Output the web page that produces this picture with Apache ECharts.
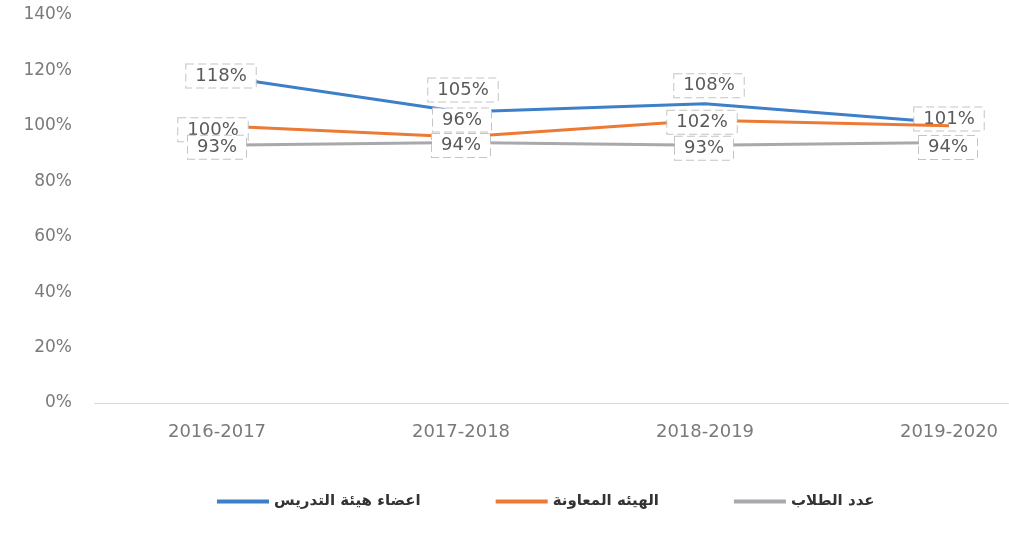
<!DOCTYPE html>
<html>
<head>
<meta charset="utf-8">
<script src="https://cdn.jsdelivr.net/npm/echarts@6/dist/echarts.min.js"></script>
<style>
html, body { margin: 0; padding: 0; background: #fff; }
#main { width: 1009px; height: 535px; }
</style>
</head>
<body>
<div id="main"></div>
<script>
var myChart = echarts.init(document.getElementById('main'));

// السنوات
var years = ['2016-2017', '2017-2018', '2018-2019', '2019-2020'];
// اعضاء هيئة التدريس
var staffData = [118, 105, 108, 101];
// الهيئه المعاونة
var assistData = [100, 96, 102, 100];
// عدد الطلاب
var studentData = [93, 94, 93, 94];

var seriesNames = ['اعضاء هيئة التدريس', 'الهيئه المعاونة', 'عدد الطلاب'];
var seriesColors = ['#3d7fc8', '#ec7a34', '#a9a9ad'];

// label offsets per point (style only)
var labelOffsets = [
	[[4, 0], [2, -22], [4, -18], [0, -4]],
	[[-4, 4], [1, -17], [-3, 2], null],
	[[0, 2], [0, 3], [-1, 3], [-1, 5]]
];

var buildData = function (values, s) {
	var out = [];
	for (var i = 0; i < values.length; i++) {
		var off = labelOffsets[s][i];
		out.push({
			value: values[i],
			label: off ? { show: true, offset: off } : { show: false }
		});
	}
	return out;
};

var labelStyle = {
	show: true,
	position: 'inside',
	formatter: '{c}%',
	fontFamily: 'DejaVu Sans',
	fontSize: 18,
	color: '#5a5a5a',
	backgroundColor: '#fff',
	borderColor: '#c4c4c4',
	borderWidth: 1,
	borderType: 'dashed',
	padding: [3, 9, 2, 9]
};

var allData = [staffData, assistData, studentData];
var series = [];
for (var s = 0; s < 3; s++) {
	series.push({
		name: seriesNames[s],
		type: 'line',
		data: buildData(allData[s], s),
		symbol: 'circle',
		symbolSize: 0.1,
		showSymbol: true,
		z: 2 + s,
		lineStyle: { width: 3, color: seriesColors[s] },
		itemStyle: { color: seriesColors[s] },
		label: labelStyle
	});
}

var option = {
	animation: false,
	grid: {
		left: 95,
		width: 976,
		top: 15,
		height: 388,
		containLabel: false,
		outerBoundsMode: 'none'
	},
	legend: {
		data: seriesNames,
		top: 489,
		left: 212,
		itemGap: 75,
		itemWidth: 52,
		itemHeight: 4,
		icon: 'rect',
		textStyle: {
			fontFamily: 'DejaVu Sans',
			fontSize: 15,
			fontWeight: 'bold',
			color: '#333'
		}
	},
	xAxis: {
		type: 'category',
		data: years,
		boundaryGap: true,
		axisLine: { show: true, lineStyle: { color: '#d0d0d0', type: 'dotted' } },
		axisTick: { show: false },
		splitLine: { show: false },
		axisLabel: {
			margin: 20,
			fontFamily: 'DejaVu Sans',
			fontSize: 18,
			color: '#7a7a7a'
		}
	},
	yAxis: {
		type: 'value',
		min: 0,
		max: 140,
		interval: 20,
		axisLine: { show: false },
		axisTick: { show: false },
		splitLine: { show: false },
		axisLabel: {
			formatter: '{value}%',
			margin: 23,
			fontFamily: 'DejaVu Sans',
			fontSize: 17,
			color: '#7a7a7a'
		}
	},
	series: series
};

myChart.setOption(option);

window.onresize = function () {
	myChart.resize();
};
</script>
</body>
</html>
